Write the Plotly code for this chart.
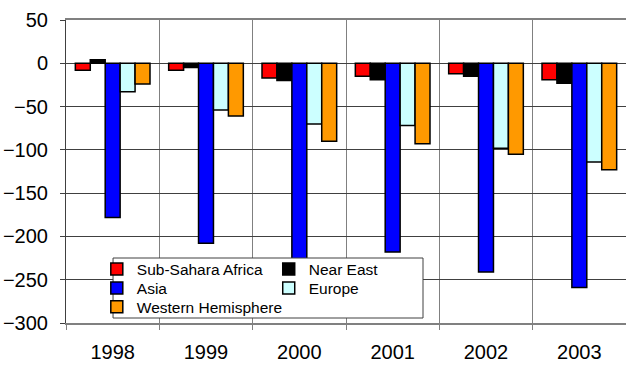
import plotly.graph_objects as go

years = ["1998", "1999", "2000", "2001", "2002", "2003"]

sub_sahara = [-8, -8, -17, -15, -12, -19]
near_east = [4, -5, -20, -19, -15, -23]
asia = [-178, -208, -232, -218, -241, -259]
europe = [-33, -54, -70, -72, -98, -114]
western_hemisphere = [-24, -61, -90, -93, -105, -123]

# name, values, fill colour, legend id
series = [
    ("Sub-Sahara Africa", sub_sahara, "#FF0000", "legend"),
    ("Near East", near_east, "#000000", "legend2"),
    ("Asia", asia, "#0000FF", "legend3"),
    ("Europe", europe, "#CCFFFF", "legend4"),
    ("Western Hemisphere", western_hemisphere, "#FF9900", "legend5"),
]

FONT = "Liberation Sans, Arial, sans-serif"

fig = go.Figure()
for name, values, color, leg in series:
    fig.add_trace(go.Bar(
        x=years, y=values, name=name, legend=leg, showlegend=True,
        marker=dict(color=color, line=dict(color="#000000", width=1.5)),
    ))

# white framed box behind the legend entries
fig.add_shape(
    type="rect", xref="paper", yref="paper",
    x0=0.084, x1=0.6375, y0=0.0165, y1=0.2145,
    fillcolor="white", line=dict(color="#404040", width=1), layer="above",
)

legend_style = dict(
    bgcolor="rgba(0,0,0,0)", borderwidth=0,
    font=dict(family=FONT, size=15.5, color="#000000"),
    orientation="v", xanchor="left", yanchor="top",
    itemclick=False, itemdoubleclick=False, visible=True,
)

# two columns, three rows of legend entries
col_left, col_right = 0.055, 0.362
row_1, row_2, row_3 = 0.233, 0.170, 0.108

fig.update_layout(
    width=626, height=367,
    showlegend=True,
    margin=dict(l=66, r=0, t=20, b=44),
    paper_bgcolor="white", plot_bgcolor="white",
    barmode="group", bargap=0.2, bargroupgap=0,
    font=dict(family=FONT, color="#000000"),
    legend=dict(x=col_left, y=row_1, **legend_style),
    legend2=dict(x=col_right, y=row_1, **legend_style),
    legend3=dict(x=col_left, y=row_2, **legend_style),
    legend4=dict(x=col_right, y=row_2, **legend_style),
    legend5=dict(x=col_left, y=row_3, **legend_style),
    xaxis=dict(
        type="category", tickson="boundaries",
        showgrid=True, gridcolor="#808080", gridwidth=1,
        showline=True, linecolor="#808080", linewidth=2, mirror=True,
        ticks="outside", ticklen=5, tickcolor="#808080",
        tickfont=dict(family=FONT, size=20), ticklabelstandoff=10,
    ),
    yaxis=dict(
        range=[-300, 50], dtick=50,
        showgrid=True, gridcolor="#404040", gridwidth=1,
        zeroline=False,
        showline=True, linecolor="#404040", linewidth=1, mirror=True,
        ticks="outside", ticklen=5, tickcolor="#404040",
        tickfont=dict(family=FONT, size=20), ticklabelstandoff=8,
    ),
)

fig.write_html("out.html")
